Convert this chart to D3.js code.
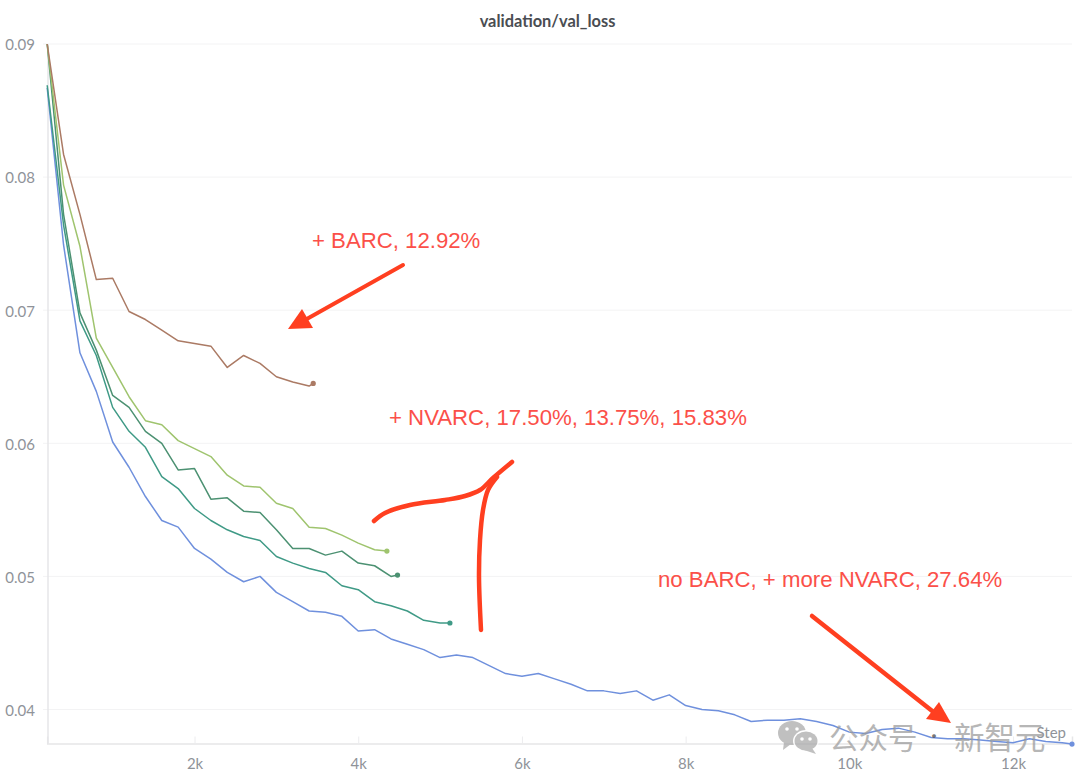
<!DOCTYPE html>
<html><head><meta charset="utf-8">
<style>html,body{margin:0;padding:0;background:#fff}svg{display:block}</style>
<script src="https://cdn.jsdelivr.net/npm/d3@7/dist/d3.min.js"></script></head>
<body><svg id="c" width="1080" height="780"></svg>
<script>
const title = "validation/val_loss";
const xTicks = [2000,4000,6000,8000,10000,12000];
const yTicks = [0.04,0.05,0.06,0.07,0.08,0.09];
const stepSize = 200;

// values at steps 200, 400, 600 ... ; each run then has a final logged point
const blueValues = [.0867,.0749,.0668,.0639,.0601,.0582,.0560,.0542,.0537,.0521,.0513,.0503,.0496,.0500,.0488,.0481,.0474,.0473,.0470,.0459,.0460,.0453,.0449,.0445,.0439,.0441,.0439,.0433,.0427,.0425,.0427,.0423,.0419,.0414,.0414,.0412,.0414,.0407,.0411,.0403,.0400,.0399,.0396,.0391,.0392,.0392,.0393,.0391,.0388,.0383,.0382,.0385,.0386,.0383,.0379,.0378,.0378,.0377,.0376,.0375,.0378,.0376,.0375];
const blueEnd = [12720,.0374];
const tealValues = [.0869,.0764,.0692,.0666,.0627,.0609,.0597,.0575,.0566,.0551,.0542,.0535,.0530,.0527,.0515,.0510,.0506,.0503,.0493,.0490,.0481,.0478,.0474,.0467,.0465];
const tealEnd = [5120,.0465];
const greenValues = [.0900,.0772,.0698,.0670,.0636,.0627,.0609,.0600,.0580,.0581,.0558,.0559,.0549,.0548,.0535,.0521,.0521,.0516,.0519,.0510,.0508,.0500];
const greenEnd = [4480,.0501];
const limeValues = [.0900,.0794,.0748,.0679,.0657,.0635,.0617,.0614,.0602,.0596,.0590,.0576,.0568,.0567,.0555,.0551,.0537,.0536,.0531,.0525,.0520];
const limeEnd = [4350,.0519];
const brownValues = [.0900,.0817,.0772,.0723,.0724,.0699,.0693,.0685,.0677,.0675,.0673,.0657,.0666,.0660,.0650,.0646,.0643];
const brownEnd = [3450,.0645];

const series = [
  {values:blueValues,end:blueEnd,color:"#6f90dd"},
  {values:tealValues,end:tealEnd,color:"#3f9a86"},
  {values:greenValues,end:greenEnd,color:"#4c9172"},
  {values:limeValues,end:limeEnd,color:"#9fc46e"},
  {values:brownValues,end:brownEnd,color:"#ab7a64"}
];
const annotations = [
  {text:"+ BARC, 12.92%",x:312,y:248},
  {text:"+ NVARC, 17.50%, 13.75%, 15.83%",x:389,y:425},
  {text:"no BARC, + more NVARC, 27.64%",x:658,y:587}
];

const svg = d3.select("#c");
const x = d3.scaleLinear().domain([200,12720]).range([47.2,1072]);
const y = d3.scaleLinear().domain([.04,.09]).range([709.5,44]);
const labelFont = "Lato, 'Open Sans', sans-serif";
const tickGrey = "#8f9399";

// grid
svg.append("g").selectAll("line").data(yTicks).join("line")
  .attr("x1",43).attr("x2",1072).attr("y1",d=>y(d)).attr("y2",d=>y(d))
  .attr("stroke","#f3f3f4").attr("stroke-width",1);

// y axis
const yAxis = svg.append("g").attr("transform","translate(48,1)")
  .call(d3.axisLeft(y).tickValues(yTicks).tickFormat(d3.format(".2f")).tickSize(0).tickPadding(13));
yAxis.select(".domain").remove();
yAxis.selectAll("text").attr("font-family",labelFont).attr("font-size",15).attr("fill",tickGrey);
svg.append("line").attr("x1",48).attr("x2",48).attr("y1",44).attr("y2",743.5)
  .attr("stroke","#e6e6e8").attr("stroke-width",1.5);

// x axis
const xAxis = svg.append("g").attr("transform","translate(0,743.5)")
  .call(d3.axisTop(x).tickValues(xTicks).tickFormat(d=>d/1000+"k").tickSize(7));
xAxis.select(".domain").attr("stroke","#e6e6e8").attr("stroke-width",1.5);
xAxis.selectAll("line").attr("stroke","#ececee");
xAxis.selectAll("text").attr("y",25).attr("dy",0).attr("font-family",labelFont)
  .attr("font-size",15).attr("fill",tickGrey).attr("text-anchor","middle");
svg.append("text").attr("x",1066).attr("y",738).attr("text-anchor","end")
  .attr("font-family",labelFont).attr("font-size",15).attr("fill",tickGrey).text("Step");

// title
svg.append("text").attr("x",547.5).attr("y",27).attr("text-anchor","middle")
  .attr("font-family",labelFont).attr("font-weight",700).attr("font-size",16.4)
  .attr("fill","#4a4d52").text(title);

// lines
const line = d3.line().x(d=>x(d[0])).y(d=>y(d[1]));
series.forEach(s=>{
  const pts = s.values.map((v,i)=>[stepSize*(i+1),v]).concat([s.end]);
  svg.append("path").attr("d",line(pts)).attr("fill","none")
    .attr("stroke",s.color).attr("stroke-width",1.5).attr("stroke-linejoin","round");
  svg.append("circle").attr("cx",x(s.end[0])).attr("cy",y(s.end[1])).attr("r",2.6).attr("fill",s.color);
});

// hand-drawn red annotations
const red = "#ff3f20";
const ink = svg.append("g");
const curve = d3.line().curve(d3.curveCatmullRom.alpha(0.5));
const strokes = [
  {p:[[403,265],[305,320]],w:4},
  {p:[[812,616],[936,714]],w:4.5},
  {p:[[374,521],[385,513],[410,505],[445,500],[465,496],[480,490],[493,478],[512,462]],w:4.5},
  {p:[[497,477],[488,490],[483,510],[480,540],[479,577],[481,630]],w:4.5}
];
strokes.forEach(s=>ink.append("path").attr("d",curve(s.p)).attr("fill","none")
  .attr("stroke",red).attr("stroke-width",s.w).attr("stroke-linecap","round"));
[[[288,329],[302,309],[313,328]],[[951,723],[939,702],[926,719]]].forEach(t=>
  ink.append("polygon").attr("points",t.join(" ")).attr("fill",red));

svg.append("g").selectAll("text").data(annotations).join("text")
  .attr("x",d=>d.x).attr("y",d=>d.y).text(d=>d.text)
  .attr("font-family","'Liberation Sans', Arial, sans-serif").attr("font-size",22.2)
  .attr("fill","#fb5049");

// watermark
const wm = svg.append("g").attr("opacity",.72);
wm.append("ellipse").attr("cx",792).attr("cy",733).attr("rx",14).attr("ry",12).attr("fill","#a8a8a8");
wm.append("path").attr("d","M784 742 L783 750 L791 744Z").attr("fill","#a8a8a8");
wm.append("ellipse").attr("cx",806).attr("cy",741).attr("rx",13).attr("ry",11).attr("fill","#fff");
wm.append("ellipse").attr("cx",806).attr("cy",741).attr("rx",11.5).attr("ry",9.5).attr("fill","#a8a8a8");
wm.append("path").attr("d","M812 748 L816 754 L804 750Z").attr("fill","#a8a8a8");
[[787,729],[797,729],[802,739],[810,739]].forEach(e=>
  wm.append("circle").attr("cx",e[0]).attr("cy",e[1]).attr("r",1.8).attr("fill","#fff"));
[{t:"公众号",x:829,size:29.5},{t:"新智元",x:954,size:30.5}].forEach(d=>
  wm.append("text").attr("x",d.x).attr("y",749).attr("font-family","'Noto Sans CJK SC'")
    .attr("font-size",d.size).attr("fill","#9a9a9a").text(d.t));
wm.append("text").attr("x",934).attr("y",743).attr("text-anchor","middle").attr("font-family","'Noto Sans CJK SC'")
  .attr("font-size",18).attr("fill","#444").text("·");
</script></body></html>
